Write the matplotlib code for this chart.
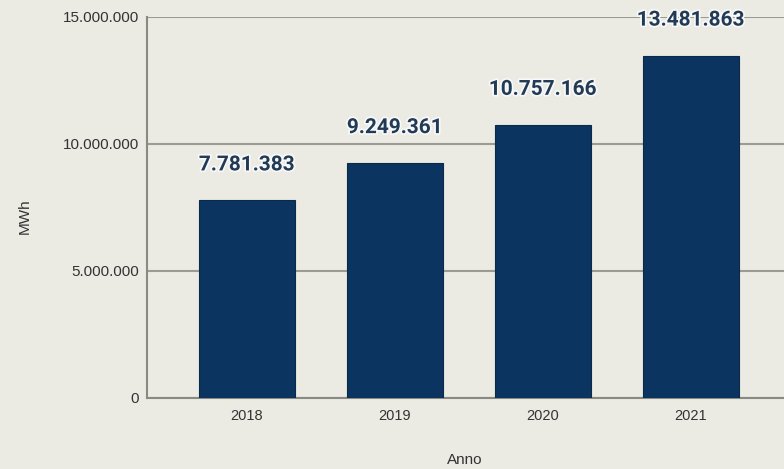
import matplotlib.pyplot as plt
import matplotlib.patheffects as pe
from matplotlib.ticker import FuncFormatter

anni = ["2018", "2019", "2020", "2021"]
mwh = [7781383, 9249361, 10757166, 13481863]
y_ticks = [0, 5000000, 10000000, 15000000]

bg = "#ebebe4"
navy = "#0b3460"


def fmt_it(v, pos=None):
    return f"{int(v):,}".replace(",", ".")


fig = plt.figure(figsize=(7.84, 4.69), dpi=100, facecolor=bg)
ax = fig.add_axes([0.1875, 0.1514, 0.8125, 0.8124], facecolor=bg)

x = range(len(anni))
ax.bar(x, mwh, width=0.65, color=navy, edgecolor="#0a2a4c", linewidth=0.8, zorder=3)

for i, v in zip(x, mwh):
    ax.annotate(fmt_it(v), (i, v), xytext=(0, 25.5), textcoords="offset points",
                ha="center", va="center", fontsize=15, fontweight="bold",
                family="Roboto", color="#213a55", zorder=5, annotation_clip=False,
                path_effects=[pe.withStroke(linewidth=2.5, foreground="#f8f8f8")])

ax.set_xlim(-0.676, 3.63)
ax.set_ylim(0, 15000000)
ax.set_xticks(list(x))
ax.set_xticklabels(anni)
ax.set_yticks(y_ticks)
ax.yaxis.set_major_formatter(FuncFormatter(fmt_it))

ax.grid(axis="y", color="#9b9b94", linewidth=1.5, zorder=0)
ax.tick_params(axis="both", length=0, colors="#333333", labelsize=10.5, pad=8)
ax.tick_params(axis="y", labelsize=11, pad=6)
for lab in ax.get_xticklabels() + ax.get_yticklabels():
    lab.set_family("Liberation Sans")

for s in ["top", "right"]:
    ax.spines[s].set_visible(False)
ax.spines["left"].set_color("#8a8a84")
ax.spines["left"].set_linewidth(1.5)
ax.spines["bottom"].set_color("#8a8a84")
ax.spines["bottom"].set_linewidth(1.5)

fig.text(0.032, 0.54, "MWh", rotation=90, ha="center", va="center",
         fontsize=11, family="Liberation Sans", color="#333333")
fig.text(0.593, 0.02, "Anno", ha="center", va="center",
         fontsize=11, family="Liberation Sans", color="#333333")

fig.savefig("out.png", dpi=100, facecolor=bg)
